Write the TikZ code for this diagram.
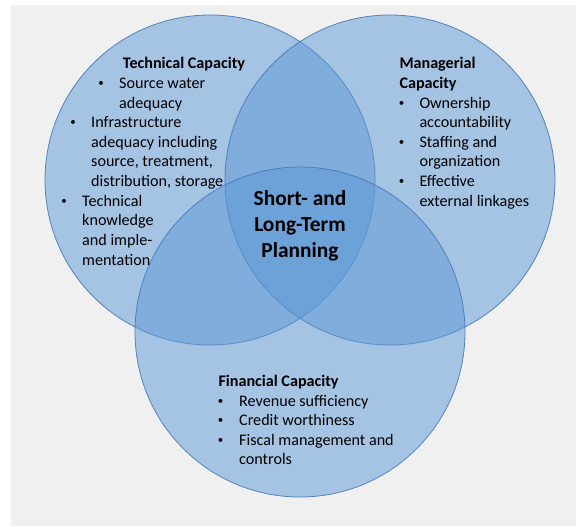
\documentclass[tikz,border=0pt]{standalone}
\usepackage{fontspec}
\setmainfont{Carlito}
\definecolor{vfill}{RGB}{92,152,214}
\definecolor{vline}{RGB}{70,122,184}
\definecolor{bggray}{RGB}{240,240,240}
\begin{document}
\begin{tikzpicture}[x=1bp,y=-1bp,
  venn/.style={fill=vfill, fill opacity=0.5, draw=vline, line width=0.8bp, draw opacity=0.9},
  ln/.style={anchor=base west, inner sep=0pt, font=\fontsize{16.2}{19.6}\selectfont, text=black},
  hd/.style={anchor=base west, inner sep=0pt, font=\fontsize{16.2}{19.6}\selectfont\bfseries, text=black},
  bul/.style={anchor=base, inner sep=0pt, font=\fontsize{11}{19.6}\selectfont, text=black, yshift=1.8bp},
  ctr/.style={anchor=base, inner sep=0pt, font=\fontsize{21.5}{26}\selectfont\bfseries, text=black}]
\useasboundingbox (0,0) rectangle (576,527);
\fill[white] (0,0) rectangle (576,527);
\fill[bggray] (11,5) rectangle (576,526);
% circles
\draw[venn] (210,180) circle[radius=165bp];
\draw[venn] (390,180) circle[radius=165bp];
\draw[venn] (300,332) circle[radius=165bp];
% Technical
\node[hd] (tct) at (122.7,69) {Technical Capacity};
\node[bul] (tb1) at (101,88.6) {•};
\node[ln] (t11) at (119,88.6) {Source water};
\node[ln] (t12) at (119,108.2) {adequacy};
\node[bul] (tb2) at (73,127.8) {•};
\node[ln] (t21) at (91,127.8) {Infrastructure};
\node[ln] (t22) at (91,147.4) {adequacy including};
\node[ln] (t23) at (91,167) {source, treatment,};
\node[ln] (t24) at (91,186.6) {distribution, storage};
\node[bul] (tb3) at (64,206.2) {•};
\node[ln] (t31) at (82,206.2) {Technical};
\node[ln] (t32) at (82,225.8) {knowledge};
\node[ln] (t33) at (82,245.4) {and imple-};
\node[ln] (t34) at (82,265) {mentation};
% Managerial
\node[hd] (mct1) at (399.3,69) {Managerial};
\node[hd] (mct2) at (399.3,88.6) {Capacity};
\node[bul] (mb1) at (401.7,108.2) {•};
\node[ln] (m11) at (419.3,108.2) {Ownership};
\node[ln] (m12) at (419.3,127.8) {accountability};
\node[bul] (mb2) at (401.7,147.4) {•};
\node[ln] (m21) at (419.3,147.4) {Staffing and};
\node[ln] (m22) at (419.3,167) {organization};
\node[bul] (mb3) at (401.7,186.6) {•};
\node[ln] (m31) at (419.3,186.6) {Effective};
\node[ln] (m32) at (419.3,206.2) {external linkages};
% Financial
\node[hd] (fct) at (218.3,386.5) {Financial Capacity};
\node[bul] (fb1) at (220.7,406) {•};
\node[ln] (f1) at (239,406) {Revenue sufficiency};
\node[bul] (fb2) at (220.7,425.5) {•};
\node[ln] (f2) at (239,425.5) {Credit worthiness};
\node[bul] (fb3) at (220.7,445) {•};
\node[ln] (f31) at (239,445) {Fiscal management and};
\node[ln] (f32) at (239,464.5) {controls};
% Center
\node[ctr] (c1) at (300,206) {Short- and};
\node[ctr] (c2) at (300,231.5) {Long-Term};
\node[ctr] (c3) at (300,257) {Planning};
\end{tikzpicture}
\end{document}
